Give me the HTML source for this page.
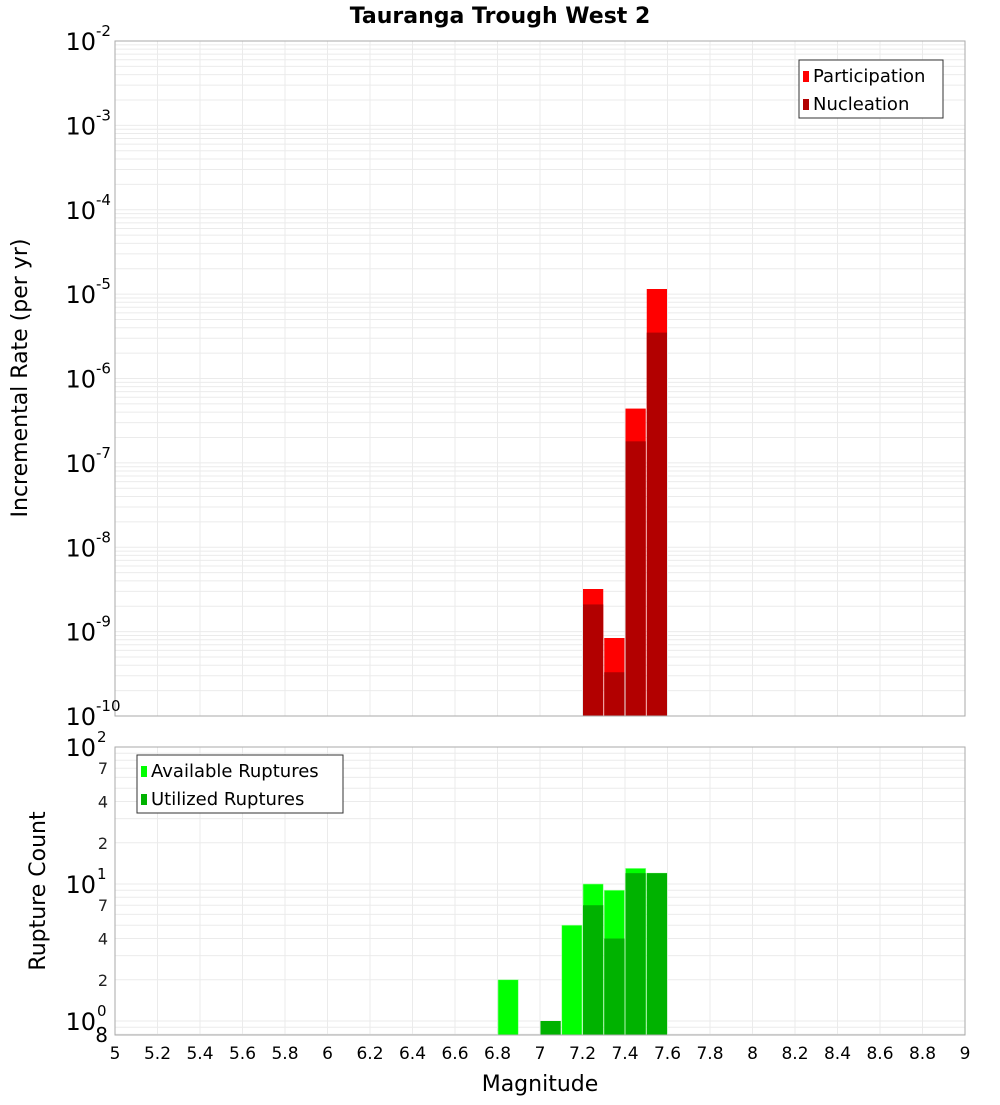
<!DOCTYPE html>
<html><head><meta charset="utf-8"><style>
body{margin:0;background:#fff}
svg text{font-family:"DejaVu Sans","Liberation Sans",sans-serif}
</style></head><body>
<svg id="c" width="1000" height="1100" xmlns="http://www.w3.org/2000/svg">
<text x="500" y="23" text-anchor="middle" font-size="22" font-weight="bold">Tauranga Trough West 2</text>
<g id="top"></g>
<g id="bot"></g>
<text transform="translate(27,378) rotate(-90)" text-anchor="middle" font-size="22">Incremental Rate (per yr)</text>
<text transform="translate(45,891) rotate(-90)" text-anchor="middle" font-size="22">Rupture Count</text>
<text x="540" y="1091" text-anchor="middle" font-size="22">Magnitude</text>
</svg>
<script>
const mags=[6.85,7.05,7.15,7.25,7.35,7.45,7.55];
const participation=[0,0,0,3.2e-9,8.4e-10,4.4e-7,1.15e-5];
const nucleation=[0,0,0,2.1e-9,3.3e-10,1.8e-7,3.5e-6];
const available=[2,0,5,10,9,13,12];
const utilized=[0,1,0,7,4,12,12];
const xTicks=[5,5.2,5.4,5.6,5.8,6,6.2,6.4,6.6,6.8,7,7.2,7.4,7.6,7.8,8,8.2,8.4,8.6,8.8,9];
const topExps=[-2,-3,-4,-5,-6,-7,-8,-9,-10];
const botTicks=[[100,"10","2"],[70,"7"],[40,"4"],[20,"2"],[10,"10","1"],[7,"7"],[4,"4"],[2,"2"],[1,"10","0"]];
const NS="http://www.w3.org/2000/svg";
const X0=115,X1=965;
const xs=m=>X0+(m-5)/4*(X1-X0);
const T0=41,T1=716;
const yt=v=>T0+(-2-Math.log10(v))/8*(T1-T0);
const B0=747,Bdec=137;
const B1=1035;
const yb=v=>B0+(2-Math.log10(v))*Bdec;
function mk(p,tag,a,txt){const e=document.createElementNS(NS,tag);for(const k in a)e.setAttribute(k,a[k]);if(txt!=null)e.textContent=txt;p.appendChild(e);return e;}
const topG=document.getElementById('top'),botG=document.getElementById('bot');
function frame(g,y0,y1,minor){
  mk(g,'rect',{x:X0,y:y0,width:X1-X0,height:y1-y0,fill:'#fff'});
  minor.forEach(y=>{if(y>y0&&y<y1){const l=mk(g,'line',{x1:X0,x2:X1,y1:y,y2:y,stroke:'#ebebeb'});}});
  xTicks.forEach(t=>{const l=mk(g,'line',{x1:xs(t),x2:xs(t),y1:y0,y2:y1,stroke:'#ebebeb'});});
}
let minT=[];for(let e=-10;e<-2;e++)for(let k=1;k<10;k++)minT.push(yt(k*Math.pow(10,e)));
frame(topG,T0,T1,minT);
let minB=[];for(let e=-1;e<2;e++)for(let k=1;k<10;k++)minB.push(yb(k*Math.pow(10,e)));
frame(botG,B0,B1,minB);
const bw=(X1-X0)/40;
mags.forEach((m,i)=>{
  const x=xs(m)-bw/2;
  if(participation[i]>0){const r=mk(topG,'rect',{x:x+0.5,y:yt(participation[i]),width:bw-1,height:T1-yt(participation[i]),fill:'#ff0000'});}
  if(nucleation[i]>0){const r=mk(topG,'rect',{x:x+0.5,y:yt(nucleation[i]),width:bw-1,height:T1-yt(nucleation[i]),fill:'#b20000'});}
  if(available[i]>0){const r=mk(botG,'rect',{x:x+0.5,y:yb(available[i]),width:bw-1,height:B1-yb(available[i]),fill:'#00ff00',stroke:'#9f9',"stroke-width":0.6});}
  if(utilized[i]>0){const r=mk(botG,'rect',{x:x+0.5,y:yb(utilized[i]),width:bw-1,height:B1-yb(utilized[i]),fill:'#00b200'});}
});
mk(topG,'rect',{x:X0,y:T0,width:X1-X0,height:T1-T0,fill:'none',stroke:'#aaa'});
mk(botG,'rect',{x:X0,y:B0,width:X1-X0,height:B1-B0,fill:'none',stroke:'#aaa'});
topExps.forEach(e=>{const y=yt(Math.pow(10,e));
  const t=mk(topG,'text',{x:96,y:y+9,'text-anchor':'end','font-size':24},'10');
  const s=mk(topG,'text',{x:96,y:y-5,'font-size':15},String(e));});
botTicks.forEach(t=>{const y=yb(t[0]);
  if(t.length===3){const a=mk(botG,'text',{x:96,y:y+9,'text-anchor':'end','font-size':24},t[1]);
    const s=mk(botG,'text',{x:97,y:y-5,'font-size':15},t[2]);}
  else{const a=mk(botG,'text',{x:108,y:y+6,'text-anchor':'end','font-size':16,fill:'#222'},t[1]);}});
{const a=mk(botG,'text',{x:108,y:1042,'text-anchor':'end','font-size':20},'8');}
xTicks.forEach(t=>{const a=mk(botG,'text',{x:xs(t),y:1059,'text-anchor':'middle','font-size':17},String(t));});
function legend(g,x,y,w,items){const L=mk(g,'g',{});
  mk(L,'rect',{x:x,y:y,width:w,height:58,fill:'#fff',stroke:'#333'});
  items.forEach((it,i)=>{const e=mk(L,'g',{});
    mk(e,'rect',{x:x+4,y:y+11+i*28,width:6,height:11,fill:it[1]});
    mk(e,'text',{x:x+14,y:y+22+i*28,'font-size':18},it[0]);});}
legend(topG,799,60,144,[["Participation","#ff0000"],["Nucleation","#b20000"]]);
legend(botG,137,755,206,[["Available Ruptures","#00ff00"],["Utilized Ruptures","#00b200"]]);
</script>
</body></html>
